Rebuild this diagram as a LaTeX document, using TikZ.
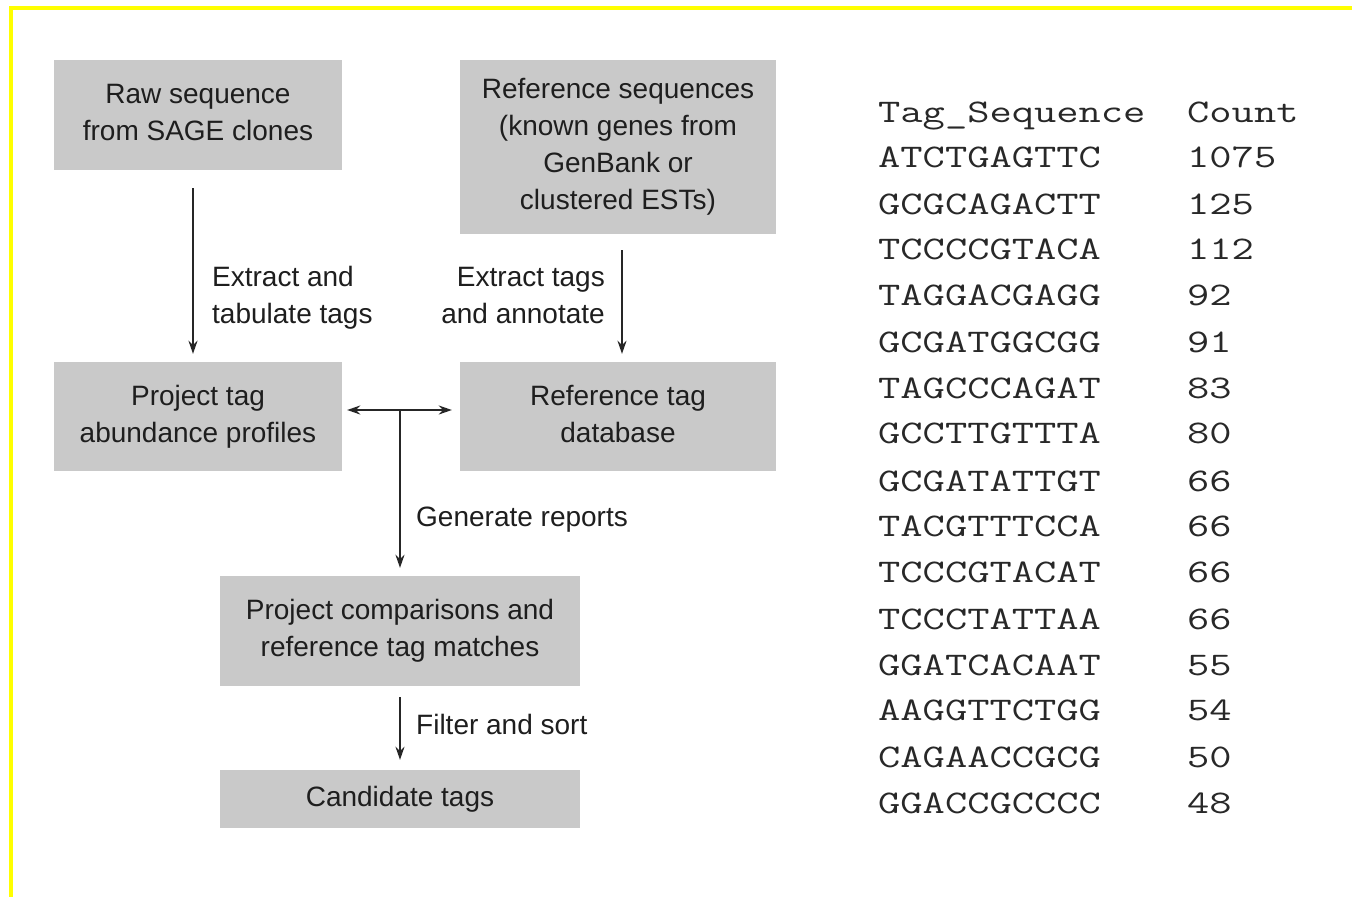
\documentclass[tikz,border=0pt]{standalone}
\usepackage{fontspec}
\usepackage{graphicx}
\setmainfont{Liberation Sans}
\usetikzlibrary{arrows.meta}
\definecolor{boxgray}{RGB}{201,201,201}
\definecolor{txt}{RGB}{30,30,30}
\definecolor{tabtxt}{RGB}{40,40,40}
\definecolor{yel}{RGB}{255,255,0}
\newcommand{\mono}[1]{\scalebox{1.31}[1]{\ttfamily\fontsize{33}{40}\selectfont #1}}
\begin{document}
\begin{tikzpicture}[x=1pt,y=-1pt,
  box/.style={fill=boxgray, draw=none, inner sep=0pt, align=center, text=txt,
    font=\fontsize{28}{37}\selectfont},
  lbl/.style={inner sep=0pt, text=txt, font=\fontsize{28}{37}\selectfont},
  arr/.style={draw=black!85, line width=1.6pt, -{Stealth[length=13pt,width=9pt]}},
  darr/.style={draw=black!85, line width=1.6pt, {Stealth[length=13pt,width=9pt]}-{Stealth[length=13pt,width=9pt]}},
  tab/.style={anchor=base west, inner sep=0pt, text=tabtxt}]
\useasboundingbox (0,0) rectangle (1352,897);
\fill[white] (0,0) rectangle (1352,897);
\draw[yel, line width=4pt] (1352,8) -- (11,8) -- (11,897);

% boxes
\node[box, minimum width=288pt, minimum height=110pt] (raw) at (198,115) {\strut Raw sequence\\from SAGE clones\strut};
\node[box, minimum width=316pt, minimum height=174pt] (ref) at (618,147) {\strut Reference sequences\\(known genes from\\GenBank or\\clustered ESTs)\strut};
\node[box, minimum width=288pt, minimum height=109pt] (proj) at (198,416.5) {\strut Project tag\\abundance profiles\strut};
\node[box, minimum width=316pt, minimum height=109pt] (refdb) at (618,416.5) {\strut Reference tag\\database\strut};
\node[box, minimum width=360pt, minimum height=110pt] (comp) at (400,631) {\strut Project comparisons and\\reference tag matches\strut};
\node[box, minimum width=360pt, minimum height=58pt] (cand) at (400,799) {\strut Candidate tags};

% connectors
\draw[arr] ([yshift=-18pt]raw.south -| 193,0) -- ([yshift=8pt]proj.north -| 193,0);
\draw[arr] ([yshift=-16pt]ref.south -| 622,0) -- ([yshift=8pt]refdb.north -| 622,0);
\coordinate (j) at (400,410);
\draw[darr] ([xshift=5pt]proj.east |- j) -- ([xshift=-8pt]refdb.west |- j);
\draw[arr] (j) -- ([yshift=8pt]comp.north);
\draw[arr] ([yshift=-11pt]comp.south) -- ([yshift=10pt]cand.north);

% labels
\node[lbl, anchor=west, align=left] (l1) at (212,298) {\strut Extract and\\tabulate tags\strut};
\node[lbl, anchor=east, align=right] (l2) at (605,298) {\strut Extract tags\\and annotate\strut};
\node[lbl, anchor=west] (l3) at (416,519.5) {\strut Generate reports};
\node[lbl, anchor=west] (l4) at (416,727.5) {\strut Filter and sort};

% table
\node[tab] (h1) at (878,122) {\mono{Tag\_Sequence}};
\node[tab] (h2) at (1187,122) {\mono{Count}};
\foreach \s/\c/\y [count=\i] in {ATCTGAGTTC/1075/157, GCGCAGACTT/125/204, TCCCCGTACA/112/249,
  TAGGACGAGG/92/295, GCGATGGCGG/91/342, TAGCCCAGAT/83/388, GCCTTGTTTA/80/433,
  GCGATATTGT/66/481, TACGTTTCCA/66/526, TCCCGTACAT/66/572, TCCCTATTAA/66/619,
  GGATCACAAT/55/665, AAGGTTCTGG/54/710, CAGAACCGCG/50/757, GGACCGCCCC/48/803}{
  \node[tab] (s\i) at (878,\y+10) {\mono{\s}};
  \node[tab] (c\i) at (1187,\y+10) {\mono{\c}};
}
\end{tikzpicture}
\end{document}
